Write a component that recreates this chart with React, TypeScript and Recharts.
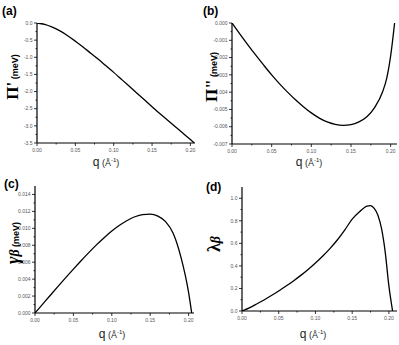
import React from 'react';
import { LineChart, Line, XAxis, YAxis } from 'recharts';

// q grid (1/Å) and values
const qA = [0, 0.01, 0.02, 0.03, 0.04, 0.05, 0.06, 0.07, 0.08, 0.09, 0.1, 0.11, 0.12, 0.13, 0.14, 0.15, 0.16, 0.17, 0.18, 0.19, 0.2, 0.205];
const piPrime = [0, -0.04, -0.12, -0.23, -0.37, -0.53, -0.7, -0.88, -1.06, -1.25, -1.44, -1.64, -1.84, -2.04, -2.24, -2.44, -2.64, -2.83, -3.02, -3.21, -3.4, -3.5];

const qB = [0, 0.01, 0.02, 0.03, 0.04, 0.05, 0.06, 0.07, 0.08, 0.09, 0.1, 0.11, 0.12, 0.13, 0.14, 0.15, 0.16, 0.17, 0.18, 0.19, 0.195, 0.2, 0.205];
const piDouble = [0, -0.00064, -0.00126, -0.00186, -0.00244, -0.003, -0.00352, -0.004, -0.00444, -0.00484, -0.0052, -0.0055, -0.00572, -0.00586, -0.00592, -0.00588, -0.00572, -0.00542, -0.00488, -0.00396, -0.0032, -0.0019, 0];

const qC = [0, 0.01, 0.02, 0.03, 0.04, 0.05, 0.06, 0.07, 0.08, 0.09, 0.1, 0.11, 0.12, 0.13, 0.14, 0.15, 0.16, 0.17, 0.18, 0.19, 0.2, 0.204];
const gammaB = [0, 0.00105, 0.0021, 0.00314, 0.00417, 0.00518, 0.00617, 0.00713, 0.00805, 0.0089, 0.00968, 0.01036, 0.01093, 0.01137, 0.01163, 0.01168, 0.01145, 0.0108, 0.0094, 0.0066, 0.0024, 0];

const qD = [0, 0.01, 0.02, 0.03, 0.04, 0.05, 0.06, 0.07, 0.08, 0.09, 0.1, 0.11, 0.12, 0.13, 0.14, 0.15, 0.16, 0.17, 0.175, 0.18, 0.185, 0.19, 0.195, 0.2, 0.205];
const lambdaB = [0, 0.028, 0.062, 0.098, 0.137, 0.178, 0.221, 0.267, 0.316, 0.369, 0.426, 0.488, 0.556, 0.632, 0.72, 0.815, 0.88, 0.93, 0.935, 0.91, 0.85, 0.73, 0.52, 0.22, 0];

const xMajor = [0, 0.05, 0.1, 0.15, 0.2];
const xMinor = [0.025, 0.075, 0.125, 0.175];

const yMajorA = [0, -0.5, -1, -1.5, -2, -2.5, -3, -3.5];
const yMajorB = [0, -0.001, -0.002, -0.003, -0.004, -0.005, -0.006, -0.007];
const yMajorC = [0, 0.002, 0.004, 0.006, 0.008, 0.01, 0.012, 0.014];
const yMajorD = [0, 0.2, 0.4, 0.6, 0.8, 1.0];

const font = 'Liberation Sans, Arial, sans-serif';
const serif = 'Liberation Serif, DejaVu Serif, serif';

const midpoints = (arr: number[]) => arr.slice(1).map((v, i) => (v + arr[i]) / 2);
const isIn = (arr: number[], v: number) => arr.some(m => Math.abs(m - v) < 1e-9);

function YTick(props: any) {
  const { x, y, payload, major, fmt } = props;
  const big = isIn(major, payload.value);
  return (
    <g>
      <line x1={x} x2={x - (big ? 3 : 1.5)} y1={y} y2={y} stroke="#000" strokeWidth={0.8} />
      {big && (
        <text x={x - 4.5} y={y} dy="0.35em" textAnchor="end" fontSize={5} fill="#555" fontFamily={font}>
          {fmt(payload.value)}
        </text>
      )}
    </g>
  );
}

function XTick(props: any) {
  const { x, y, payload } = props;
  const big = isIn(xMajor, payload.value);
  return (
    <g>
      <line x1={x} x2={x} y1={y} y2={y + (big ? 3 : 1.5)} stroke="#000" strokeWidth={0.8} />
      {big && (
        <text x={x} y={y + 9} textAnchor="middle" fontSize={5} fill="#555" fontFamily={font}>
          {payload.value.toFixed(2)}
        </text>
      )}
    </g>
  );
}

type PanelProps = {
  left: number; top: number; w: number; h: number;
  q: number[]; v: number[];
  xMax: number; yDomain: [number, number];
  yMajor: number[]; fmt: (n: number) => string;
};

function Panel({ left, top, w, h, q, v, xMax, yDomain, yMajor, fmt }: PanelProps) {
  const data = q.map((qq, i) => ({ q: qq, v: v[i] }));
  const yTicks = [...yMajor, ...midpoints(yMajor)].sort((a, b) => a - b);
  const xTicks = [...xMajor, ...xMinor].sort((a, b) => a - b);
  return (
    <div style={{ position: 'absolute', left: left - 30, top: top - 5 }}>
      <LineChart width={w + 35} height={h + 23} data={data} margin={{ top: 5, right: 5, bottom: 0, left: 0 }}>
        <XAxis
          dataKey="q" type="number" domain={[0, xMax]} ticks={xTicks} interval={0}
          height={18} tickSize={0} tickMargin={0} tick={<XTick />}
          axisLine={{ stroke: '#000', strokeWidth: 1.2 }} tickLine={false}
        />
        <XAxis
          xAxisId="top" orientation="top" dataKey="q" type="number" domain={[0, xMax]}
          height={0} tick={false} tickLine={false} axisLine={{ stroke: '#000', strokeWidth: 1.2 }}
        />
        <YAxis
          type="number" domain={yDomain} ticks={yTicks} interval={0} width={30}
          tickSize={0} tickMargin={0} tick={<YTick major={yMajor} fmt={fmt} />}
          axisLine={{ stroke: '#000', strokeWidth: 1.2 }} tickLine={false} allowDataOverflow
        />
        <YAxis
          yAxisId="right" orientation="right" type="number" domain={[0, 1]} width={0}
          tick={false} tickLine={false} axisLine={{ stroke: '#000', strokeWidth: 1.2 }}
        />
        <Line
          dataKey="v" type="monotone" stroke="#000" strokeWidth={1.3}
          dot={false} isAnimationActive={false}
        />
      </LineChart>
    </div>
  );
}

function VLabel({ cx, cy, children }: { cx: number; cy: number; children: React.ReactNode }) {
  return (
    <div style={{
      position: 'absolute', left: cx, top: cy, whiteSpace: 'nowrap', lineHeight: 1,
      transform: 'translate(-50%, -50%) rotate(-90deg)',
    }}>
      {children}
    </div>
  );
}

function QLabel({ cx, cy }: { cx: number; cy: number }) {
  return (
    <div style={{
      position: 'absolute', left: cx, top: cy, transform: 'translate(-50%, -50%)',
      whiteSpace: 'nowrap', fontFamily: font, color: '#222', lineHeight: 1,
    }}>
      <span style={{ fontSize: 12 }}>q</span>
      <span style={{ fontSize: 9 }}> (Å<sup style={{ fontSize: 6 }}>-1</sup>)</span>
    </div>
  );
}

function Tag({ x, y, t }: { x: number; y: number; t: string }) {
  return (
    <div style={{ position: 'absolute', left: x, top: y, fontFamily: font, fontWeight: 'bold', fontSize: 12, lineHeight: 1 }}>
      {t}
    </div>
  );
}

export default function App() {
  return (
    <div style={{ position: 'absolute', left: 0, top: 0, width: 399, height: 345, background: '#fff', overflow: 'hidden' }}>
      <Panel left={37} top={23} w={158} h={120} q={qA} v={piPrime} xMax={0.206} yDomain={[-3.5, 0]}
        yMajor={yMajorA} fmt={n => n.toFixed(1)} />
      <Panel left={232} top={23} w={165} h={121} q={qB} v={piDouble} xMax={0.208} yDomain={[-0.007, 0]}
        yMajor={yMajorB} fmt={n => n.toFixed(3)} />
      <Panel left={35} top={186} w={159} h={127} q={qC} v={gammaB} xMax={0.207} yDomain={[0, 0.015]}
        yMajor={yMajorC} fmt={n => n.toFixed(3)} />
      <Panel left={242} top={187} w={155} h={124} q={qD} v={lambdaB} xMax={0.211} yDomain={[0, 1.1]}
        yMajor={yMajorD} fmt={n => n.toFixed(1)} />

      <Tag x={2} y={5} t="(a)" />
      <Tag x={203} y={5} t="(b)" />
      <Tag x={4} y={178} t="(c)" />
      <Tag x={206} y={181} t="(d)" />

      <VLabel cx={12} cy={77}>
        <span style={{ fontFamily: serif, fontWeight: 'bold', fontSize: 17 }}>Π'</span>
        <span style={{ fontFamily: font, fontWeight: 'bold', fontSize: 9 }}> (meV)</span>
      </VLabel>
      <VLabel cx={211} cy={77}>
        <span style={{ fontFamily: serif, fontWeight: 'bold', fontSize: 17 }}>Π"</span>
        <span style={{ fontFamily: font, fontWeight: 'bold', fontSize: 9 }}> (meV)</span>
      </VLabel>
      <VLabel cx={13} cy={243}>
        <span style={{ fontFamily: serif, fontWeight: 'bold', fontStyle: 'italic', fontSize: 18 }}>γ</span>
        <span style={{ fontFamily: serif, fontWeight: 'bold', fontStyle: 'italic', fontSize: 14 }}>β</span>
        <span style={{ fontFamily: font, fontWeight: 'bold', fontSize: 9 }}> (meV)</span>
      </VLabel>
      <VLabel cx={214} cy={244}>
        <span style={{ fontFamily: serif, fontWeight: 'bold', fontSize: 18 }}>λ</span>
        <span style={{ fontFamily: serif, fontWeight: 'bold', fontStyle: 'italic', fontSize: 14 }}>β</span>
      </VLabel>

      <QLabel cx={106} cy={161} />
      <QLabel cx={309} cy={161} />
      <QLabel cx={112} cy={333} />
      <QLabel cx={313} cy={333} />
    </div>
  );
}
